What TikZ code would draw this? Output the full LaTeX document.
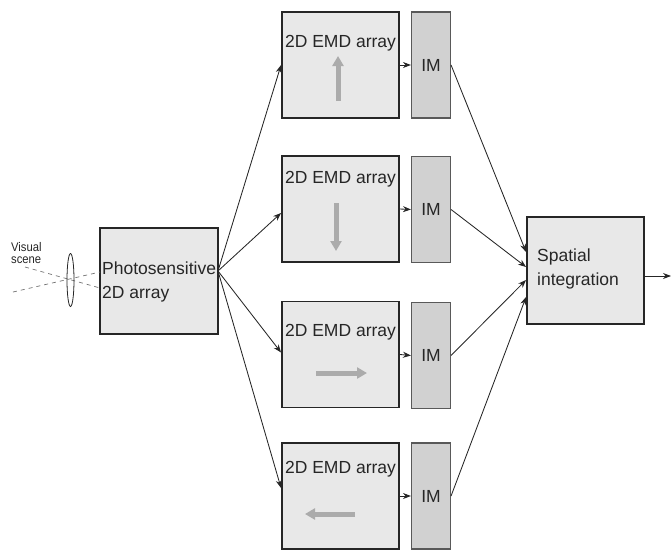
\documentclass[tikz,border=0pt]{standalone}
\usepackage{fontspec}
\setmainfont{Liberation Sans}
\usetikzlibrary{arrows.meta,calc,shapes.geometric}
\begin{document}
\begin{tikzpicture}[x=1pt,y=-1pt,
  box/.style={draw=black!85, line width=1.9pt, fill=black!9, inner sep=0, minimum width=117pt, minimum height=106pt},
  imbox/.style={draw=black!65, line width=1.1pt, fill=black!18, inner sep=0, minimum width=39pt, minimum height=106pt, font=\fontsize{17.5}{24}\selectfont, text=black!85},
  lbl/.style={font=\fontsize{17.5}{24}\selectfont, inner sep=0, text=black!85},
  conn/.style={-{Stealth[length=8pt,width=6pt]}, line width=0.85pt, black!85},
  motion/.style={-{Triangle[length=10pt,width=11pt]}, line width=5pt, black!33},
  ray/.style={dashed, dash pattern=on 4pt off 4pt, line width=0.7pt, black!55}]
\useasboundingbox (0,0) rectangle (671,549);
% photosensitive array
\node[box, minimum width=118pt] (photo) at (159,281) {};
\node[lbl, anchor=west, align=left] (phototext) at (102,282) {Photosensitive\\2D array};
% optics
\draw[ray] (25,267) -- (100,288);
\draw[ray] (13,292) -- (100,272);
\node[draw, ellipse, minimum width=7pt, minimum height=53pt, inner sep=0, line width=0.8pt, black!85] (lens) at (70.5,280) {};
\node[font=\fontsize{12.5}{12.5}\selectfont, align=left, anchor=west, xscale=0.9, inner sep=0, text=black!85] (vs) at (11,253) {Visual\\scene};
% EMD arrays
\node[box] (emd1) at (340.5,65) {};
\node[box] (emd2) at (340.5,209) {};
\node[box] (emd3) at (340.5,354.5) {};
\node[box] (emd4) at (340.5,496) {};
\node[lbl] (t1) at (340.5,43) {2D EMD array};
\node[lbl] (t2) at (340.5,179) {2D EMD array};
\node[lbl] (t3) at (340.5,332) {2D EMD array};
\node[lbl] (t4) at (340.5,469) {2D EMD array};
% motion direction arrows
\draw[motion] (338,101) -- (338,56);
\draw[motion] (336,203) -- (336,251);
\draw[motion] (316,373) -- (367,373);
\draw[motion] (355,514) -- (305,514);
% IM boxes
\node[imbox] (im1) at (431,65) {IM};
\node[imbox] (im2) at (431,209.5) {IM};
\node[imbox] (im3) at (431,355.5) {IM};
\node[imbox] (im4) at (431,496) {IM};
% spatial integration
\node[box, minimum height=107pt] (sp) at (585.5,270.5) {};
\node[lbl, anchor=west, align=left] (sptext) at (537,269) {Spatial\\integration};
% connectors
\coordinate (src) at (218,271);
\draw[conn] (src) -- (emd1.west);
\draw[conn] (src) -- ($(emd2.west)+(0,4)$);
\draw[conn] (src) -- ($(emd3.west)+(0,-2)$);
\draw[conn] (src) -- ($(emd4.west)+(0,-8)$);
\draw[conn] (emd1.east) -- (im1.west);
\draw[conn] (emd2.east) -- (im2.west);
\draw[conn] (emd3.east) -- (im3.west);
\draw[conn] (emd4.east) -- (im4.west);
\draw[conn] (im1.east) -- ($(sp.west)+(0,-18.5)$);
\draw[conn] (im2.east) -- ($(sp.west)+(0,-3.5)$);
\draw[conn] (im3.east) -- ($(sp.west)+(0,9.5)$);
\draw[conn] (im4.east) -- ($(sp.west)+(0,26.5)$);
\coordinate (out) at (671,276);
\draw[conn] ($(sp.east)+(0,5.5)$) -- (out);
\end{tikzpicture}
\end{document}
